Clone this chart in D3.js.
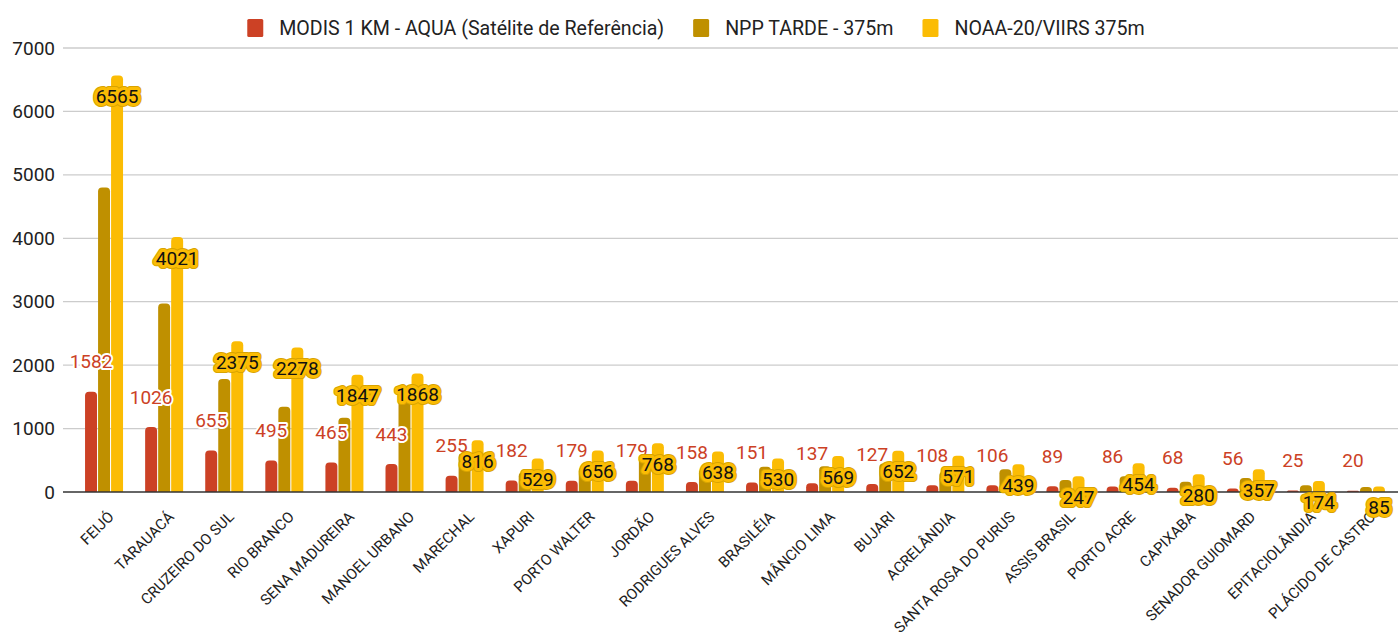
<!DOCTYPE html>
<html><head><meta charset="utf-8">
<script src="https://cdn.jsdelivr.net/npm/d3@7"></script>
<style>body{margin:0;background:#fff} svg{display:block;font-family:Roboto,"Noto Sans",sans-serif}</style>
</head><body><svg id="c" width="1398" height="632"></svg>
<script>
const categories = ["FEIJÓ","TARAUACÁ","CRUZEIRO DO SUL","RIO BRANCO","SENA MADUREIRA","MANOEL URBANO","MARECHAL","XAPURI","PORTO WALTER","JORDÃO","RODRIGUES ALVES","BRASILÉIA","MÂNCIO LIMA","BUJARI","ACRELÂNDIA","SANTA ROSA DO PURUS","ASSIS BRASIL","PORTO ACRE","CAPIXABA","SENADOR GUIOMARD","EPITACIOLÂNDIA","PLÁCIDO DE CASTRO"];
const seriesNames = ["MODIS 1 KM - AQUA (Satélite de Referência)","NPP TARDE - 375m","NOAA-20/VIIRS 375m"];
const modis = [1582,1026,655,495,465,443,255,182,179,179,158,151,137,127,108,106,89,86,68,56,25,20];
const npp = [4800,2970,1780,1345,1170,1550,615,310,390,530,360,400,405,450,320,360,190,250,160,220,108,80];
const noaa = [6565,4021,2375,2278,1847,1868,816,529,656,768,638,530,569,652,571,439,247,454,280,357,174,85];
const yTicks = [0,1000,2000,3000,4000,5000,6000,7000];
const colors = ["#cc4125","#bf9000","#fbbc04"];

const series = [modis, npp, noaa];
const svg = d3.select("#c");
const x0 = d3.scaleBand().domain(categories).range([74,1396]);
const x1 = d3.scaleBand().domain([0,1,2]).range([-19,19]).paddingInner(0.08);
const y = d3.scaleLinear().domain([0,7000]).range([492,48]);
const bw = x1.bandwidth();

// gridlines
svg.append("g").selectAll("line").data(yTicks.slice(1)).join("line")
  .attr("x1",63).attr("x2",1398).attr("y1",d=>y(d)).attr("y2",d=>y(d))
  .attr("stroke","#cccccc").attr("stroke-width",1.3);

// y axis labels
const ya = svg.append("g").attr("transform","translate(55,0)")
  .call(d3.axisLeft(y).tickValues(yTicks).tickSize(0).tickPadding(0).tickFormat(d3.format("d")));
ya.select(".domain").remove();
ya.selectAll("text").attr("font-size",19).attr("font-family","Roboto").attr("fill","#222");

function topRounded(x,yTop,w,h,r){
  r=Math.min(r,h,w/2);
  return `M${x},${yTop+h}V${yTop+r}Q${x},${yTop} ${x+r},${yTop}H${x+w-r}Q${x+w},${yTop} ${x+w},${yTop+r}V${yTop+h}Z`;
}

// bars
const bars = svg.append("g");
categories.forEach((c,i)=>{
  series.forEach((s,k)=>{
    const v = s[i];
    const xx = x0(c)+x0.bandwidth()/2 + x1(k);
    bars.append("path")
      .attr("d", topRounded(xx, y(v), bw, y(0)-y(v), 4))
      .attr("fill", colors[k]);
  });
});

// baseline
svg.append("line").attr("x1",63).attr("x2",1398).attr("y1",y(0)).attr("y2",y(0))
  .attr("stroke","#333").attr("stroke-width",1.6);

// x labels
svg.append("g").selectAll("text").data(categories).join("text")
  .attr("transform",d=>`translate(${x0(d)+x0.bandwidth()/2+7},514) rotate(-45)`)
  .attr("text-anchor","end").attr("dy","0.35em")
  .attr("font-size",15).attr("fill","#222").text(d=>d);

// MODIS labels
const ml = svg.append("g").attr("font-size",19).attr("text-anchor","middle");
categories.forEach((c,i)=>{
  const cx = x0(c)+x0.bandwidth()/2 + x1(0) + bw/2;
  ml.append("text").attr("x",cx).attr("y",y(modis[i])-30).attr("dy","0.35em")
    .attr("fill","#cc4125").attr("stroke","#fff").attr("stroke-width",4)
    .attr("stroke-linejoin","round").attr("paint-order","stroke").text(modis[i]);
});

// NOAA labels
const nl = svg.append("g").attr("font-size",19).attr("text-anchor","middle");
categories.forEach((c,i)=>{
  const cx = x0(c)+x0.bandwidth()/2 + x1(2) + bw/2;
  const ty = y(noaa[i])+21;
  nl.append("text").attr("x",cx).attr("y",ty).attr("dy","0.35em")
    .attr("fill","none").attr("stroke","#d9a400").attr("stroke-width",8)
    .attr("stroke-linejoin","round").text(noaa[i]);
  nl.append("text").attr("x",cx).attr("y",ty).attr("dy","0.35em")
    .attr("fill","#111").attr("stroke","#fbbc04").attr("stroke-width",6)
    .attr("stroke-linejoin","round").attr("paint-order","stroke").text(noaa[i]);
});

// legend
const lg = svg.append("g").attr("font-size",19.6);
const items = seriesNames.map((n,k)=>{
  const g = lg.append("g");
  g.append("rect").attr("width",16).attr("height",18).attr("y",19).attr("rx",1.5).attr("fill",colors[k]);
  const t = g.append("text").attr("x",32).attr("y",28).attr("dy","0.35em").attr("fill","#222").text(n);
  return {g, w: 32 + t.node().getComputedTextLength()};
});
const gap = 29;
const total = d3.sum(items,d=>d.w) + gap*(items.length-1);
let px = 696 - total/2;
items.forEach(it=>{ it.g.attr("transform",`translate(${px},0)`); px += it.w + gap; });
</script></body></html>
